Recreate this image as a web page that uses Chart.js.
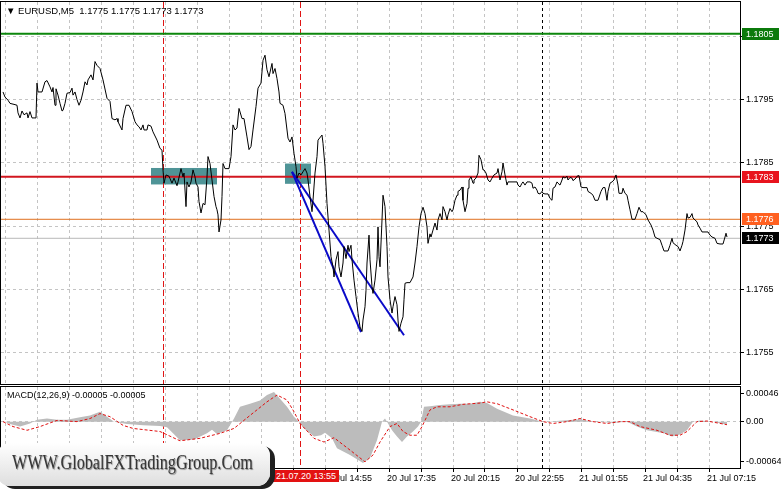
<!DOCTYPE html>
<html>
<head>
<meta charset="utf-8">
<title>EURUSD M5</title>
<script src="https://cdn.jsdelivr.net/npm/chart.js@4.4.1/dist/chart.umd.min.js"></script>
<style>
  html, body { margin: 0; padding: 0; background: #fff; }
  #wrap { position: relative; width: 781px; height: 489px; overflow: hidden; font-family: "Liberation Sans", Arial, sans-serif; }
  #pricebox { position: absolute; left: 0; top: 0; width: 781px; height: 386px; }
  #macdbox { position: absolute; left: 0; top: 386px; width: 781px; height: 103px; }
  .note { position: absolute; font-size: 9.5px; color: #000; white-space: pre; line-height: 12px; }
  #head { left: 6px; top: 5px; }
  #macdname { left: 7px; top: 389px; font-size: 9px; }
  #cursor { position: absolute; left: 273px; top: 470px; width: 66px; height: 12px; background: #e31212; color: #fff; font-size: 9px; line-height: 12px; text-align: center; }
  #wm { position: absolute; left: -3px; top: 443px; width: 273px; height: 43px; border-radius: 13px; background: linear-gradient(#ffffff, #dedede); box-shadow: 5px 3px 0 #202020; }
  #wm span { position: absolute; left: 15px; top: 8px; font-family: "Liberation Serif", "Times New Roman", serif; font-size: 20px; color: #363636; text-shadow: 1px 1px 1px #8a8a8a; transform: scaleX(0.81); transform-origin: 0 0; white-space: nowrap; }
</style>
</head>
<body>
<div id="wrap">
  <div id="pricebox"><canvas id="chartPrice"></canvas></div>
  <div id="macdbox"><canvas id="chartMacd"></canvas></div>
  <div class="note" id="head">▼ EURUSD,M5  1.1775 1.1775 1.1773 1.1773</div>
  <div class="note" id="macdname">MACD(12,26,9) -0.00005 -0.00005</div>
  <div id="cursor">21.07.20 13:55</div>
  <div id="wm"><span>WWW.GlobalFXTradingGroup.Com</span></div>
</div>
<script>
// bar index (5 min bars) and close price
const priceBars = [
  1,2,3.5,4.5,7,8,8.5,9.5,10.5,11.5,
  13,13.5,14.5,15.5,17.5,18,18.5,20.5,22,23,
  24.5,25.5,26,27,27.5,28.5,29.5,30.5,31,32,
  33,34.5,35.5,36,37,38,39,40,41,42,
  43,43.5,45,46,47,48,49.5,51,53,54.5,
  55.5,57,58,58.5,60.5,61,62.5,64,65.5,67,
  68,69,70,71,71.5,73,73.5,75,76,78,
  79.5,80.5,81,81.5,82.5,84,85.5,86.5,88,88.5,
  90,91,91.5,92.5,93,94,95,96,97,97.5,
  98.5,99,100,101,102,103,103.5,104.5,105.5,106.5,
  107.5,108,108.5,109,110,110.5,111,112,114,115,
  116,117,118,119,120.5,121.5,123,124,125,126,
  127.5,128.5,130,131,132,133,134,135.5,136,137,
  138,139,139.5,141,142,143.5,144.5,145.5,146.5,147.5,
  148,149,150,151,152,153,153.5,154.5,155.5,156,
  157,158,158.5,160.5,161,162,163,164,165,166,
  166.5,167.5,168.5,169,170,171,171.5,172.5,173.5,174,
  175,175.5,176.5,177.5,178.5,179.5,180.5,181,182,182.5,
  183,184,184.5,185.5,186,187,188,188.5,189,189.5,
  190.5,191,192,193,193.5,194.5,195.5,196,197,198,
  198.5,199,200,201,201.5,202,203,204.5,206,207,
  208,209,210,211,212,213,213.5,214.5,215,216,
  217,218,218.5,219.5,220.5,221,222,223,223.5,224.5,
  225.5,226,227,228,228.5,229.5,230.5,231,232,233,
  233.5,234,235,236,236.5,237.5,238.5,239,240,241,
  241.5,242.5,243.5,244.5,245.5,246.5,248,248.5,249.5,250.5,
  251,252,253,253.5,254.5,256,258,258.5,259.5,260.5,
  261,262,263,264.5,265.5,266,267,268,268.5,269.5,
  270.5,271,272,273.5,274.5,275.5,276,277,278,278.5,
  279.5,280.5,281,282,283,283.5,284.5,285.5,286,287.5,
  288,289,290,291,293,293.5,295,296,297,298.5,
  300,301,302,303,303.5,304.5,305.5,306.5,307.5,308.5,
  309,310.5,311,312,313,313.5,314.5,315.5,317,318,
  319,320,321,322.5,323.5,325,326,327,328,329.5,
  330.5,331.5,333.5,334.5,335.5,336,337.5,338.5,339.5,340.5,
  341,342,343,343.5,344.5,345.5,346,347,348,348.5,
  349.5,350.5,352,353.5,354.5,355.5,357,358,359.5,361,
  362,362.5,363
];
const priceClose = [
  1.17962,1.17954,1.17949,1.17944,1.17942,1.17941,1.17929,1.17921,1.17932,1.17926,
  1.17929,1.17921,1.17931,1.17921,1.17921,1.17976,1.17962,1.17962,1.17978,1.17980,
  1.17970,1.17962,1.17969,1.17941,1.17967,1.17957,1.17944,1.17932,1.17933,1.17944,
  1.17960,1.17961,1.17968,1.17957,1.17962,1.17950,1.17941,1.17949,1.17962,1.17978,
  1.17973,1.17981,1.17989,1.17981,1.18010,1.18004,1.17999,1.17981,1.17952,1.17947,
  1.17920,1.17918,1.17920,1.17915,1.17902,1.17920,1.17941,1.17941,1.17931,1.17915,
  1.17910,1.17907,1.17902,1.17910,1.17902,1.17902,1.17910,1.17908,1.17899,1.17886,
  1.17873,1.17870,1.17839,1.17818,1.17831,1.17829,1.17818,1.17826,1.17814,1.17820,
  1.17841,1.17828,1.17834,1.17781,1.17820,1.17812,1.17820,1.17839,1.17828,1.17818,
  1.17812,1.17789,1.17771,1.17786,1.17784,1.17828,1.17860,1.17849,1.17823,1.17797,
  1.17781,1.17776,1.17768,1.17741,1.17760,1.17797,1.17849,1.17841,1.17841,1.17860,
  1.17910,1.17902,1.17905,1.17936,1.17920,1.17920,1.17891,1.17871,1.17876,1.17902,
  1.17939,1.17968,1.17976,1.18012,1.18020,1.17997,1.17986,1.18007,1.17991,1.17999,
  1.17983,1.17962,1.17944,1.17941,1.17928,1.17889,1.17883,1.17891,1.17865,1.17844,
  1.17826,1.17834,1.17831,1.17836,1.17841,1.17834,1.17823,1.17797,1.17773,1.17791,
  1.17834,1.17860,1.17886,1.17894,1.17881,1.17844,1.17786,1.17744,1.17702,1.17686,
  1.17670,1.17697,1.17710,1.17686,1.17670,1.17692,1.17718,1.17699,1.17720,1.17710,
  1.17720,1.17697,1.17665,1.17639,1.17613,1.17591,1.17584,1.17602,1.17623,1.17649,
  1.17692,1.17736,1.17697,1.17655,1.17644,1.17665,1.17697,1.17749,1.17702,1.17686,
  1.17760,1.17799,1.17781,1.17718,1.17670,1.17634,1.17613,1.17623,1.17639,1.17626,
  1.17602,1.17584,1.17597,1.17607,1.17634,1.17660,1.17661,1.17661,1.17670,1.17692,
  1.17718,1.17749,1.17770,1.17780,1.17770,1.17749,1.17723,1.17738,1.17733,1.17744,
  1.17755,1.17744,1.17760,1.17770,1.17760,1.17781,1.17773,1.17760,1.17768,1.17778,
  1.17773,1.17776,1.17791,1.17799,1.17805,1.17807,1.17812,1.17791,1.17773,1.17786,
  1.17810,1.17823,1.17828,1.17818,1.17823,1.17826,1.17834,1.17862,1.17855,1.17839,
  1.17839,1.17834,1.17823,1.17820,1.17826,1.17831,1.17834,1.17841,1.17823,1.17836,
  1.17850,1.17831,1.17815,1.17820,1.17820,1.17820,1.17820,1.17815,1.17812,1.17818,
  1.17820,1.17815,1.17820,1.17820,1.17818,1.17810,1.17812,1.17807,1.17802,1.17801,
  1.17805,1.17802,1.17801,1.17801,1.17794,1.17791,1.17810,1.17812,1.17820,1.17818,
  1.17815,1.17823,1.17828,1.17826,1.17829,1.17823,1.17827,1.17826,1.17822,1.17826,
  1.17829,1.17830,1.17812,1.17811,1.17811,1.17805,1.17802,1.17799,1.17791,1.17791,
  1.17805,1.17811,1.17811,1.17791,1.17805,1.17818,1.17820,1.17823,1.17831,1.17815,
  1.17802,1.17802,1.17810,1.17802,1.17799,1.17791,1.17776,1.17761,1.17761,1.17770,
  1.17780,1.17773,1.17773,1.17768,1.17760,1.17752,1.17744,1.17733,1.17731,1.17729,
  1.17720,1.17711,1.17711,1.17720,1.17731,1.17724,1.17720,1.17718,1.17711,1.17720,
  1.17726,1.17744,1.17770,1.17763,1.17764,1.17770,1.17763,1.17760,1.17757,1.17752,
  1.17747,1.17741,1.17741,1.17741,1.17736,1.17733,1.17731,1.17723,1.17722,1.17722,
  1.17733,1.17739,1.17733
];

// MACD main line (drawn as histogram area) and signal line
const macdBars = [1,4.5,9.5,14.5,18,23,28,33,39.5,44.5,49.5,53,56.5,63,71,79.5,83,89.5,96.5,103,
  105.5,108,113,116.5,119.5,124.5,129.5,133,136.5,139.5,143,146.5,149,151.5,156.5,160,162,165.5,168,174.5,
  181,184.5,188,190.5,192,193,195.5,198,200.5,203,206,208.5,210,211.5,214.5,219.5,224.5,229.5,234.5,239.5,
  243,248,256,264.5,269.5,273,281,289.5,296,306,313,318,323,331.5,335.5,339.5,343,346,349.5,356,363];
const macdValues = [0.00001,-0.00004,-0.00008,-0.00003,0.00003,0.00005,0.00003,0.00003,0.00007,0.0001,
  0.00016,0.00008,0,-0.00004,-0.00006,-0.00007,-0.00009,-0.0003,-0.00029,-0.00019,
  -0.00013,-0.0002,-0.00014,0.00005,0.00024,0.00029,0.00034,0.00043,0.00048,0.00037,
  0.00024,0.00008,0,-0.00011,-0.00024,-0.00022,-0.00018,-0.00027,-0.00043,-0.00054,
  -0.00067,-0.00059,-0.0003,0,0.00005,0,-0.00014,-0.00024,-0.00033,-0.00024,
  -0.00016,-0.00008,0,0.00024,0.00025,0.00027,0.00028,0.00029,0.00029,0.00032,
  0.0003,0.00021,0.0001,0.00005,0.00001,0,0.00002,0.00004,0,-0.00002,
  0,-0.00008,-0.00014,-0.00019,-0.00024,-0.00021,-0.00014,0,0.00002,0,-0.00005];
const signalBars = [1,6,13,19.5,28,38,44.5,49.5,54.5,61,66,79.5,89.5,99.5,109.5,116.5,124.5,133,138,143,
  146.5,149.5,156.5,161.5,166.5,174.5,182,186,189.5,194.5,198,201,204.5,208,210.5,214.5,218,224.5,231,239.5,
  243,248,256,264.5,271,276,283,289.5,296,303,309.5,314.5,319.5,328,334.5,339.5,343,348,353,358,363];
const signalValues = [0,-0.00008,-0.00014,-0.00008,0.00002,0,0.00005,0.00013,0.00008,-0.00006,
  -0.00011,-0.00016,-0.00031,-0.00027,-0.00019,-0.00011,0.0001,0.00032,0.00043,0.00035,
  0.00016,-0.00003,-0.00027,-0.00033,-0.00026,-0.00046,-0.00065,-0.00054,-0.00033,-0.00008,
  -0.00003,-0.00016,-0.00022,-0.00022,-0.00008,0.00019,0.00024,0.00024,0.00028,0.0003,
  0.00032,0.00029,0.00019,0.00008,0,-0.00003,0,0.00005,0,-0.00003,
  0,0,-0.00008,-0.00014,-0.00022,-0.00022,-0.00016,0,0.00001,-0.00002,-0.00005];

// horizontal levels: green, red, orange, bid
const levelValues = [1.18054, 1.17828, 1.17761, 1.17731];
const levelColors = ['#0c870c', '#d2161f', '#e0701e', '#b8b8b8'];
const levelWidths = [2, 2, 1, 1];
const tagColors = ['#0b7a0b', '#e8141e', '#ff6020', '#000000'];

// trend lines (blue)
const trendFromBar = 145.5, trendFromPrice = 1.17836;
const trendToBars = [180, 201.5];
const trendToPrices = [1.17583, 1.17578];

// rectangles: bar from, bar to, price high, price low
const boxFromBars = [75, 142];
const boxToBars = [108, 155];
const boxHighs = [1.17842, 1.17849];
const boxLows = [1.17816, 1.17817];

// vertical markers
const markerBars = [81, 149.5, 270.5];
const markerColors = ['#e01414', '#e01414', '#000000'];

// axes
const priceTicks = [1.1755, 1.1765, 1.1775, 1.1785, 1.1795, 1.1805];
const macdTicks = [-0.00064, 0, 0.00046];
const gridBars = [2,18,34,50,66,82,98,114,130,146,162,178,194,210,226,242,258,274,290,306,322,338,354];
const labelBars = [2,34,66,98,130,162,194,226,258,290,322,354];
const labelTexts = ['20 Jul 01:35','20 Jul 04:15','20 Jul 06:55','20 Jul 09:35','20 Jul 12:15','20 Jul 14:55',
  '20 Jul 17:35','20 Jul 20:15','20 Jul 22:55','21 Jul 01:55','21 Jul 04:35','21 Jul 07:15'];

const xMin = 0, xMax = 369.5;

Chart.defaults.font.family = '"Liberation Sans", Arial, sans-serif';
Chart.defaults.font.size = 9;
Chart.defaults.color = '#000';

// keep the plot area edge to edge, no label overhang padding
const noPadX = (h) => (s) => { s.height = h; s.paddingLeft = 0; s.paddingRight = 0; };
const noPadY = (s) => { s.width = 41; s.paddingTop = 0; s.paddingBottom = 0; };

const panelFrame = {
  id: 'panelFrame',
  afterDraw(chart) {
    const {ctx, chartArea: a} = chart;
    ctx.save();
    ctx.strokeStyle = '#000';
    ctx.lineWidth = 1;
    ctx.strokeRect(Math.round(a.left) - 0.5, Math.round(a.top) - 0.5, Math.round(a.width) + 1, Math.round(a.height) + 1);
    ctx.restore();
  }
};

const markerLines = {
  id: 'markerLines',
  beforeDatasetsDraw(chart) {
    const {ctx, chartArea: a, scales: {x}} = chart;
    ctx.save();
    ctx.lineWidth = 1;
    markerBars.forEach((b, i) => {
      const px = Math.round(x.getPixelForValue(b)) + 0.5;
      ctx.strokeStyle = markerColors[i];
      ctx.setLineDash(i < 2 ? [6, 3] : [3, 3]);
      ctx.beginPath();
      ctx.moveTo(px, a.top);
      ctx.lineTo(px, a.bottom);
      ctx.stroke();
    });
    ctx.restore();
  }
};

const zoneBoxes = {
  id: 'zoneBoxes',
  beforeDatasetsDraw(chart) {
    const {ctx, scales: {x, y}} = chart;
    ctx.save();
    ctx.fillStyle = '#4f9497';
    boxFromBars.forEach((b, i) => {
      const x0 = x.getPixelForValue(b), x1 = x.getPixelForValue(boxToBars[i]);
      const y0 = y.getPixelForValue(boxHighs[i]), y1 = y.getPixelForValue(boxLows[i]);
      ctx.fillRect(x0, y0, x1 - x0, y1 - y0);
    });
    ctx.restore();
  }
};

const priceTags = {
  id: 'priceTags',
  afterDraw(chart) {
    const {ctx, chartArea: a, scales: {y}} = chart;
    ctx.save();
    ctx.font = '9px "Liberation Sans", Arial, sans-serif';
    ctx.textBaseline = 'middle';
    levelValues.forEach((v, i) => {
      const py = Math.round(y.getPixelForValue(v));
      ctx.fillStyle = tagColors[i];
      ctx.fillRect(a.right + 2, py - 6, 37, 12);
      ctx.fillStyle = '#fff';
      ctx.fillText(v.toFixed(4), a.right + 6, py + 0.5);
    });
    ctx.restore();
  }
};

const flat = (v) => [{x: xMin, y: v}, {x: xMax, y: v}];

const priceDatasets = [
  {data: priceBars.map((b, i) => ({x: b, y: priceClose[i]})), borderColor: '#000', borderWidth: 1}
];
trendToBars.forEach((b, i) => {
  priceDatasets.push({
    data: [{x: trendFromBar, y: trendFromPrice}, {x: b, y: trendToPrices[i]}],
    borderColor: '#0a0ac8', borderWidth: 2
  });
});
levelValues.forEach((v, i) => {
  priceDatasets.push({data: flat(v), borderColor: levelColors[i], borderWidth: levelWidths[i]});
});

const priceChart = new Chart(document.getElementById('chartPrice'), {
  type: 'line',
  data: {datasets: priceDatasets},
  options: {
    animation: false,
    responsive: true,
    maintainAspectRatio: false,
    layout: {padding: {top: 2, bottom: 2, left: 1, right: 0}},
    elements: {point: {radius: 0}, line: {tension: 0}},
    plugins: {legend: {display: false}, tooltip: {enabled: false}},
    scales: {
      x: {
        type: 'linear', min: xMin, max: xMax,
        afterBuildTicks: (s) => { s.ticks = gridBars.map(v => ({value: v})); },
        afterFit: noPadX(0),
        ticks: {display: false},
        grid: {color: '#c4c4c4', drawTicks: false},
        border: {display: false, dash: [3, 3]}
      },
      y: {
        position: 'right', min: 1.17501, max: 1.18104,
        afterBuildTicks: (s) => { s.ticks = priceTicks.map(v => ({value: v})); },
        afterFit: noPadY,
        ticks: {autoSkip: false, padding: 2, callback: (v) => v.toFixed(4)},
        grid: {color: '#c4c4c4', tickLength: 4, tickColor: '#000'},
        border: {display: false, dash: [3, 3]}
      }
    }
  },
  plugins: [zoneBoxes, markerLines, panelFrame, priceTags]
});

const macdChart = new Chart(document.getElementById('chartMacd'), {
  type: 'line',
  data: {
    datasets: [
      {data: signalBars.map((b, i) => ({x: b, y: signalValues[i]})), borderColor: '#e01010', borderWidth: 1, borderDash: [3, 2]},
      {data: macdBars.map((b, i) => ({x: b, y: macdValues[i]})), borderColor: 'rgba(0,0,0,0)', borderWidth: 0, backgroundColor: '#bcbcbc', fill: 'origin'}
    ]
  },
  options: {
    animation: false,
    responsive: true,
    maintainAspectRatio: false,
    layout: {padding: {top: 1, bottom: 0, left: 1, right: 0}},
    elements: {point: {radius: 0}, line: {tension: 0}},
    plugins: {legend: {display: false}, tooltip: {enabled: false}},
    scales: {
      x: {
        type: 'linear', min: xMin, max: xMax,
        afterBuildTicks: (s) => { s.ticks = gridBars.map(v => ({value: v})); },
        afterFit: noPadX(21),
        ticks: {
          autoSkip: false, maxRotation: 0, align: 'start', labelOffset: -2, padding: 1,
          callback: (v) => { const i = labelBars.indexOf(v); return i >= 0 ? labelTexts[i] : ''; }
        },
        grid: {color: '#c4c4c4', tickLength: 4, tickColor: '#000'},
        border: {display: false, dash: [3, 3]}
      },
      y: {
        position: 'right', min: -0.00075, max: 0.00056,
        afterBuildTicks: (s) => { s.ticks = macdTicks.map(v => ({value: v})); },
        afterFit: noPadY,
        ticks: {autoSkip: false, padding: 2, callback: (v) => v === 0 ? '0.00' : v.toFixed(5)},
        grid: {color: (c) => (c.tick && c.tick.value === 0) ? '#c4c4c4' : 'rgba(0,0,0,0)', tickLength: 4, tickColor: '#000'},
        border: {display: false, dash: [3, 3]}
      }
    }
  },
  plugins: [markerLines, panelFrame]
});
</script>
</body>
</html>
